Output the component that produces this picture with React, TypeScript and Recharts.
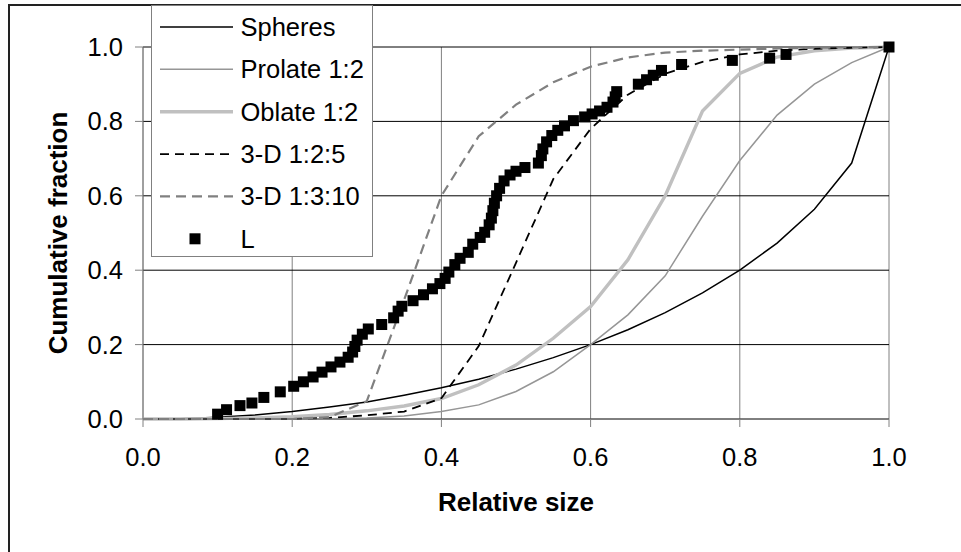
import React from 'react';
import { ComposedChart, Line, Scatter, XAxis, YAxis, CartesianGrid, Legend } from 'recharts';

const FONT = 'Arial, "Liberation Sans", sans-serif';

const xTicks = [0, 0.2, 0.4, 0.6, 0.8, 1.0];
const yTicks = [0, 0.2, 0.4, 0.6, 0.8, 1.0];

const modelX = [0, 0.05, 0.1, 0.15, 0.2, 0.25, 0.3, 0.35, 0.4, 0.45, 0.5, 0.55, 0.6, 0.65, 0.7, 0.75, 0.8, 0.85, 0.9, 0.95, 1.0];
const spheres = [0, 0.001, 0.005, 0.011, 0.02, 0.032, 0.046, 0.064, 0.084, 0.107, 0.134, 0.165, 0.2, 0.24, 0.286, 0.339, 0.4, 0.473, 0.564, 0.688, 1.0];
const prolate = [0, 0, 0, 0, 0, 0.001, 0.003, 0.008, 0.02, 0.038, 0.074, 0.127, 0.2, 0.28, 0.385, 0.545, 0.695, 0.817, 0.9, 0.958, 1.0];
const oblate = [0, 0, 0.001, 0.003, 0.006, 0.012, 0.022, 0.035, 0.055, 0.092, 0.145, 0.217, 0.302, 0.428, 0.6, 0.828, 0.929, 0.973, 0.99, 0.997, 1.0];
const d125 = [0, 0, 0, 0, 0, 0.003, 0.01, 0.02, 0.056, 0.196, 0.42, 0.645, 0.78, 0.872, 0.928, 0.96, 0.98, 0.99, 0.995, 0.998, 1.0];
const d1310 = [0, 0, 0, 0, 0, 0.005, 0.048, 0.32, 0.6, 0.76, 0.845, 0.905, 0.947, 0.972, 0.985, 0.99, 0.993, 0.996, 0.998, 0.999, 1.0];

const lX = [0.100, 0.112, 0.130, 0.146, 0.162, 0.184, 0.202, 0.215, 0.228, 0.240, 0.252, 0.264, 0.275, 0.281, 0.284, 0.287, 0.294, 0.302, 0.320, 0.336, 0.342, 0.347, 0.362, 0.376, 0.388, 0.398, 0.405, 0.410, 0.418, 0.425, 0.436, 0.442, 0.452, 0.458, 0.464, 0.467, 0.469, 0.471, 0.474, 0.478, 0.484, 0.492, 0.500, 0.512, 0.530, 0.534, 0.536, 0.541, 0.548, 0.556, 0.565, 0.577, 0.592, 0.602, 0.612, 0.622, 0.630, 0.633, 0.635, 0.664, 0.675, 0.684, 0.695, 0.722, 0.790, 0.840, 0.862, 1.000];
const lY = [0.013, 0.025, 0.036, 0.043, 0.058, 0.073, 0.088, 0.100, 0.113, 0.126, 0.140, 0.153, 0.166, 0.180, 0.195, 0.212, 0.228, 0.242, 0.254, 0.272, 0.290, 0.303, 0.318, 0.334, 0.350, 0.364, 0.378, 0.395, 0.415, 0.432, 0.448, 0.470, 0.488, 0.502, 0.522, 0.540, 0.560, 0.580, 0.600, 0.620, 0.640, 0.656, 0.666, 0.676, 0.688, 0.708, 0.726, 0.745, 0.762, 0.776, 0.788, 0.802, 0.812, 0.820, 0.828, 0.838, 0.852, 0.866, 0.880, 0.900, 0.912, 0.924, 0.937, 0.953, 0.964, 0.970, 0.980, 1.000];

const toPts = (ys: number[]) => modelX.map((x, i) => ({ x, y: ys[i] }));
const lPts = lX.map((x, i) => ({ x, y: lY[i] }));

const series = [
  { name: 'Spheres', data: toPts(spheres), stroke: '#000000', width: 1.5, dash: undefined as string | undefined },
  { name: 'Prolate 1:2', data: toPts(prolate), stroke: '#969696', width: 1.5, dash: undefined },
  { name: 'Oblate 1:2', data: toPts(oblate), stroke: '#c0c0c0', width: 3.4, dash: undefined },
  { name: '3-D 1:2:5', data: toPts(d125), stroke: '#000000', width: 1.8, dash: '9 6' },
  { name: '3-D 1:3:10', data: toPts(d1310), stroke: '#808080', width: 2.2, dash: '10 6' },
];

const renderLegend = () => {
  const rowY = (i: number) => 22 + 42.36 * i;
  return (
    <svg width={222} height={252} style={{ display: 'block' }}>
      <rect x={0.5} y={0.5} width={221} height={251} fill="#ffffff" stroke="#808080" strokeWidth={1} />
      {series.map((s, i) => (
        <g key={s.name}>
          <line x1={9} x2={82} y1={rowY(i)} y2={rowY(i)} stroke={s.stroke} strokeWidth={s.width} strokeDasharray={s.dash} />
          <text x={89.5} y={rowY(i) + 9} fontSize={25.5} fontFamily={FONT} fill="#000">{s.name}</text>
        </g>
      ))}
      <rect x={38.5} y={rowY(5) - 5.5} width={11} height={11} fill="#000" />
      <text x={89.5} y={rowY(5) + 9} fontSize={25.5} fontFamily={FONT} fill="#000">L</text>
    </svg>
  );
};

const SquareShape = (p: any) => <rect x={p.cx - 5.5} y={p.cy - 5.5} width={11} height={11} fill="#000" />;

export default function App() {
  return (
    <div style={{ position: 'fixed', left: 0, top: 0, width: 961, height: 552, overflow: 'hidden', background: '#fff' }}>
      <div style={{ position: 'absolute', left: 8, top: 4, width: 2000, height: 2000, borderLeft: '2px solid #222', borderTop: '2px solid #222' }} />
      <ComposedChart width={961} height={552} margin={{ top: 47, right: 72, bottom: 0, left: 0 }}>
        <CartesianGrid horizontal={false} stroke="#808080" strokeWidth={1} />
        <CartesianGrid vertical={false} stroke="#000000" strokeWidth={1} />
        <XAxis
          type="number"
          dataKey="x"
          domain={[0, 1]}
          ticks={xTicks}
          height={133}
          tickSize={8}
          tickMargin={21}
          stroke="#808080"
          tickFormatter={(v: number) => v.toFixed(1)}
          tick={{ fill: '#000', fontSize: 25.5, fontFamily: FONT }}
          label={{
            content: (props: any) => {
              const vb = props.viewBox || { x: 143, width: 746 };
              return (
                <text x={vb.x + vb.width / 2} y={511} textAnchor="middle" fontSize={26} fontWeight="bold" fontFamily={FONT} fill="#000">
                  Relative size
                </text>
              );
            },
          }}
        />
        <YAxis
          type="number"
          dataKey="y"
          domain={[0, 1]}
          ticks={yTicks}
          width={143}
          tickSize={8}
          tickMargin={12}
          stroke="#808080"
          tickFormatter={(v: number) => v.toFixed(1)}
          tick={{ fill: '#000', fontSize: 25.5, fontFamily: FONT }}
          label={{
            content: (props: any) => {
              const vb = props.viewBox || { y: 47, height: 372 };
              const cy = vb.y + vb.height / 2;
              return (
                <text transform={`translate(66.5, ${cy}) rotate(-90)`} textAnchor="middle" fontSize={26} fontWeight="bold" fontFamily={FONT} fill="#000">
                  Cumulative fraction
                </text>
              );
            },
          }}
        />
        {series.map((s) => (
          <Line
            key={s.name}
            name={s.name}
            data={s.data}
            dataKey="y"
            type="linear"
            stroke={s.stroke}
            strokeWidth={s.width}
            strokeDasharray={s.dash}
            dot={false}
            activeDot={false}
            isAnimationActive={false}
          />
        ))}
        <Scatter name="L" data={lPts} dataKey="y" fill="#000" shape={SquareShape} isAnimationActive={false} />
        <Legend
          layout="vertical"
          verticalAlign="middle"
          align="center"
          wrapperStyle={{ left: 151, top: 5, width: 222, height: 252 }}
          content={renderLegend}
        />
      </ComposedChart>
    </div>
  );
}
